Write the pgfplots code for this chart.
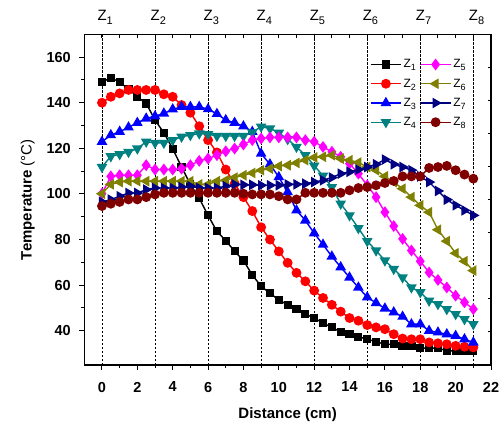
\documentclass[border=0pt]{standalone}
\usepackage{fontspec}
\setmainfont{Liberation Sans}
\usepackage{pgfplots}
\pgfplotsset{compat=1.18}
\usepackage{pgfplotstable}

\definecolor{navy}{RGB}{0,0,128}
\definecolor{maroon}{RGB}{128,0,0}
\definecolor{zteal}{RGB}{0,128,128}
\definecolor{zolive}{RGB}{128,128,0}
\definecolor{zmag}{RGB}{255,0,255}

% temperature along the tube, one column per heated zone
\pgfplotstableread{
x    z1    z2    z3    z4    z5    z6    z7    z8
0    149   140   122.9 111.8 100.1 100.1 96.5  94.7
0.5  151   142.6 125.8 116.5 107.7 104.2 97.5  95.7
1    149   144.1 127.3 117.4 108.2 105.2 99.0  96.5
1.5  146   145.6 129.2 118.4 108.2 105.6 100.4 97.6
2    142.6 145.6 131.2 119.9 108.2 105.6 100.4 97.6
2.5  139.7 145.6 133.1 122.9 112.6 105.6 101.9 98.6
3    132.4 145.6 134.1 122.4 110.7 105.6 102.6 99.8
3.5  126.8 143.7 135.3 122.4 110.7 105.6 102.6 100.5
4    119.8 142.6 137.1 123.6 110.7 105.6 102.6 100.5
4.5  111.8 139.0 138.2 125.1 111.1 105.6 103.0 100.5
5    104.2 135.6 138.2 125.8 112.6 105.6 103.4 100.5
5.5  98.1  129.7 138.2 126.5 114.5 104.2 102.6 100.5
6    90.6  123.6 137.2 126.2 115.5 104.2 102.6 100.5
6.5  83.6  118.2 135.1 125.4 117.0 105.6 102.6 100.5
7    79.5  110.7 132.4 125.4 118.7 106.0 103.4 100.5
7.5  74.9  104.5 131.2 125.4 119.9 107.2 104.2 100.5
8    70.8  98.6  129.7 125.4 121.7 108.2 104.0 100.1
8.5  64.5  92.5  127.3 127.0 123.6 109.2 104.0 99.8
9    59.5  85.4  117.7 129.5 124.3 110.4 103.8 99.8
9.5  56.5  80.0  113.0 128.7 124.8 111.1 103.8 99.8
10   53.5  74.8  107.4 126.8 124.8 112.2 103.8 99.0
10.5 51.4  69.8  100.8 124.0 124.8 112.6 104.2 97.6
11   49.4  65.4  92.8  120.6 124.8 113.6 104.2 97.6
11.5 47.3  61.7  88.4  117.0 123.6 114.8 104.5 100.5
12   45.6  57.6  82.8  112.4 122.9 116.0 105.2 100.5
12.5 43.4  54.4  77.8  108.0 120.6 116.3 106.0 100.5
13   41.5  51.4  72.6  103.0 118.5 117.0 107.2 100.5
13.5 39.5  48.4  67.9  95.7  116.3 115.5 108.9 100.5
14   38.5  45.6  63.4  90.6  113.3 114.8 109.7 101.6
14.5 37.4  44.4  59.0  85.0  108.9 113.8 110.7 102.6
15   36.3  42.5  54.7  79.3  103.8 111.8 111.8 103.0
15.5 35.2  41.5  52.2  75.2  98.6  110.4 113.0 103.8
16   34.1  40.7  49.8  70.8  92.0  107.7 115.1 104.8
16.5 34.1  38.5  48.1  67.1  85.9  105.2 113.0 105.7
17   33.4  36.6  46.2  63.4  80.3  102.3 111.8 107.7
17.5 33.4  36.3  42.9  59.0  75.2  98.6  110.4 107.7
18   32.4  36.3  42.9  56.9  70.5  95.0  107.7 107.7
18.5 32.4  34.9  40.0  53.2  65.6  92.0  105.2 111.4
19   32.4  34.5  39.3  51.7  62.3  84.3  101.3 111.8
19.5 31.2  34.1  38.5  49.5  59.0  79.3  97.5  112.3
20   31.2  33.4  37.8  47.3  55.4  74.0  95.0  110.4
20.5 31.2  33.0  36.3  45.1  52.5  70.5  92.8  108.5
21   31.2  32.7  34.9  42.9  49.5  66.4  90.6  106.7
}\zones

\newcommand{\zlab}[1]{Z\raisebox{-3.5bp}{\fontsize{11bp}{11bp}\selectfont #1}}
\newcommand{\zleg}[1]{Z\raisebox{-3bp}{\fontsize{9bp}{9bp}\selectfont #1}}

\begin{document}
\begin{tikzpicture}
\begin{axis}[
    name=main,
    scale only axis,
    width=406.7bp, height=330.7bp,
    xmin=-1, xmax=22, ymin=25, ymax=170,
    clip mode=individual,
    xtick={0,2,...,22}, ytick={40,60,...,160},
    minor x tick num=1, minor y tick num=1,
    xtick pos=left, ytick pos=left,
    tick align=outside,
    major tick length=5bp, minor tick length=3bp,
    every tick/.style={black, line width=1bp},
    axis line style={line width=1.2bp},
    tick label style={font=\fontsize{14.5bp}{17bp}\selectfont\bfseries},
    xticklabel style={yshift=-8.5bp},
    yticklabel style={xshift=-5bp},
    /pgf/number format/assume math mode=true,
    xlabel={\textbf{Distance (cm)}},
    ylabel={\textbf{Temperature} (°C)},
    label style={font=\fontsize{15bp}{18bp}\selectfont},
    xlabel style={at={(axis description cs:0.5,-0.1603)}, anchor=base},
    ylabel style={at={(axis description cs:-0.1293,0.5)}, anchor=base},
    extra x ticks={0,3,...,21}, extra x tick labels={},
    extra x tick style={grid=major, major tick length=0pt,
        major grid style={black, line width=0.7bp, dash pattern=on 2.5bp off 1.5bp}},
    every axis plot/.append style={line width=1.4bp},
    legend columns=4, transpose legend,
    legend cell align=left,
    legend style={at={(axis description cs:0.7025,0.93)}, anchor=north west,
        draw=none, fill=none, inner sep=0pt, row sep=5.5bp,
        font=\fontsize{12bp}{13bp}\selectfont,
        /tikz/every even column/.append style={column sep=2bp}},
    legend image code/.code={\draw[mark repeat=2, mark phase=2]
        plot coordinates {(0bp,0bp) (15bp,0bp) (30bp,0bp)};},
]
\addplot[black, mark=square*, mark size=3.4bp] table[x=x, y=z1] {\zones};
\addplot[red, mark=*, mark size=4.2bp] table[x=x, y=z2] {\zones};
\addplot[blue, mark=triangle*, mark size=4.8bp] table[x=x, y=z3] {\zones};
\addplot[zteal, mark=triangle*, mark size=4.8bp, mark options={rotate=180}] table[x=x, y=z4] {\zones};
\addplot[zmag, mark=diamond*, mark size=4.8bp] table[x=x, y=z5] {\zones};
\addplot[zolive, mark=triangle*, mark size=4.8bp, mark options={rotate=90}] table[x=x, y=z6] {\zones};
\addplot[navy, mark=triangle*, mark size=4.8bp, mark options={rotate=-90}] table[x=x, y=z7] {\zones};
\addplot[maroon, mark=*, mark size=4.2bp] table[x=x, y=z8] {\zones};
\legend{\zleg{1},\zleg{2},\zleg{3},\zleg{4},\zleg{5},\zleg{6},\zleg{7},\zleg{8}}

\begin{scope}[every node/.style={anchor=base west, inner sep=0pt, xshift=-4.6bp, yshift=13.6bp,
        font=\fontsize{15bp}{18bp}\selectfont}]
\node at (axis cs:0,170) {\zlab{1}};
\node at (axis cs:3,170) {\zlab{2}};
\node at (axis cs:6,170) {\zlab{3}};
\node at (axis cs:9,170) {\zlab{4}};
\node at (axis cs:12,170) {\zlab{5}};
\node at (axis cs:15,170) {\zlab{6}};
\node at (axis cs:18,170) {\zlab{7}};
\node at (axis cs:21,170) {\zlab{8}};
\end{scope}
\end{axis}

% mirror ticks on top and right, pointing inward
\begin{axis}[
    scale only axis,
    width=406.7bp, height=330.7bp,
    xmin=-1, xmax=22, ymin=25, ymax=170,
    axis x line*=top, axis y line*=right,
    xtick={-1,0,...,22}, ytick={25,39.5,54,68.5,83,97.5,112,126.5,141,155.5,170},
    xticklabels={}, yticklabels={},
    tick align=inside, major tick length=3.5bp,
    every tick/.style={black, line width=1bp},
    axis line style={line width=1.2bp},
]
\end{axis}

\pgfresetboundingbox
\path[use as bounding box] ([xshift=-84.3bp, yshift=-59bp]main.south west)
    rectangle ([xshift=13bp, yshift=34.3bp]main.north east);
\end{tikzpicture}
\end{document}
